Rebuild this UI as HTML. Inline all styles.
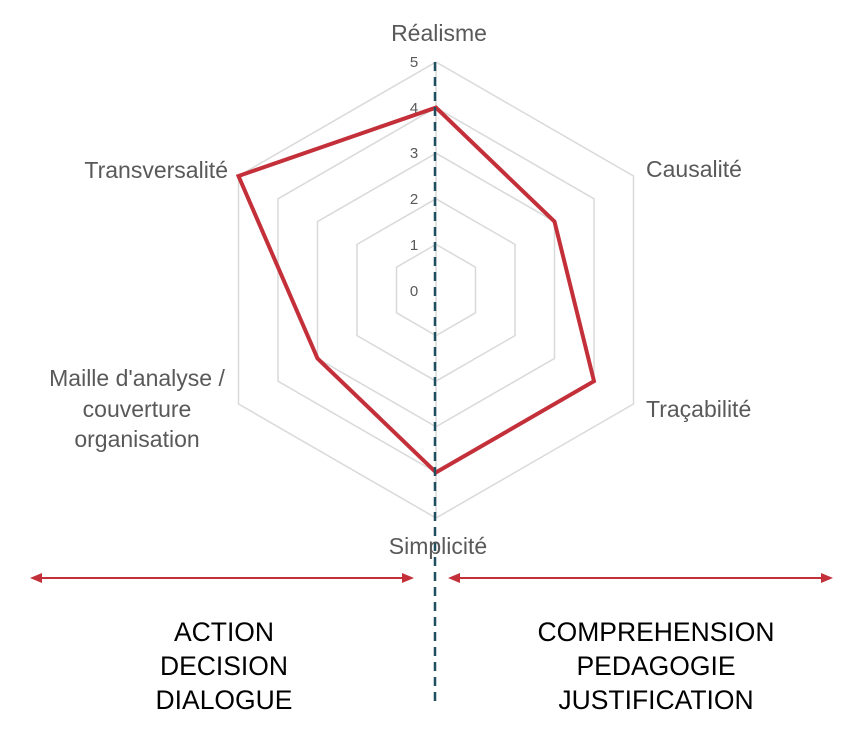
<!DOCTYPE html>
<html><head><meta charset="utf-8"><style>
html,body{margin:0;padding:0;background:#fff;}
svg{display:block;font-family:"Liberation Sans",sans-serif;}
</style></head><body>
<svg width="855" height="746" viewBox="0 0 855 746" xmlns="http://www.w3.org/2000/svg">
<g fill="none" stroke="#d9d9d9" stroke-width="1.5">
<polygon points="436,62 633.5,176 633.5,404 436,518 238.5,404 238.5,176"/>
<polygon points="436,107.6 594,198.8 594,381.2 436,472.4 278,381.2 278,198.8"/>
<polygon points="436,153.2 554.5,221.6 554.5,358.4 436,426.8 317.5,358.4 317.5,221.6"/>
<polygon points="436,198.8 515,244.4 515,335.6 436,381.2 357,335.6 357,244.4"/>
<polygon points="436,244.4 475.5,267.2 475.5,312.8 436,335.6 396.5,312.8 396.5,267.2"/>
<line x1="436" y1="62" x2="436" y2="518"/>
</g>
<g fill="#595959" font-size="15" text-anchor="middle">
<text x="414" y="67">5</text><text x="414" y="113">4</text><text x="414" y="158">3</text>
<text x="414" y="204">2</text><text x="414" y="250">1</text><text x="414" y="296">0</text>
</g>
<polygon points="436,107.6 554.5,221.6 594,381.2 436,472.4 317.5,358.4 238.5,176" fill="none" stroke="#c4303a" stroke-width="4" stroke-linejoin="miter"/>
<line x1="435" y1="62" x2="435" y2="705" stroke="#1f4e5f" stroke-width="2.5" stroke-dasharray="9,6"/>
<g fill="#595959" font-size="23">
<text x="439" y="41" text-anchor="middle">Réalisme</text>
<text x="646" y="177">Causalité</text>
<text x="646" y="417">Traçabilité</text>
<text x="438" y="554" text-anchor="middle">Simplicité</text>
<text x="228" y="178" text-anchor="end">Transversalité</text>
<text x="137" y="386" text-anchor="middle">Maille d'analyse /</text>
<text x="137" y="417" text-anchor="middle">couverture</text>
<text x="137" y="447" text-anchor="middle">organisation</text>
</g>
<g stroke="#c4303a" stroke-width="2" fill="#c4303a">
<line x1="38" y1="578" x2="405" y2="578"/>
<polygon points="30,578 42,573 42,583" stroke="none"/>
<polygon points="414,578 402,573 402,583" stroke="none"/>
<line x1="457" y1="578" x2="824" y2="578"/>
<polygon points="448,578 460,573 460,583" stroke="none"/>
<polygon points="833,578 821,573 821,583" stroke="none"/>
</g>
<g fill="#000" font-size="26.5" text-anchor="middle">
<text x="224" y="641">ACTION</text>
<text x="224" y="675">DECISION</text>
<text x="224" y="709">DIALOGUE</text>
<text x="656" y="641">COMPREHENSION</text>
<text x="656" y="675">PEDAGOGIE</text>
<text x="656" y="709">JUSTIFICATION</text>
</g>
</svg>
</body></html>
